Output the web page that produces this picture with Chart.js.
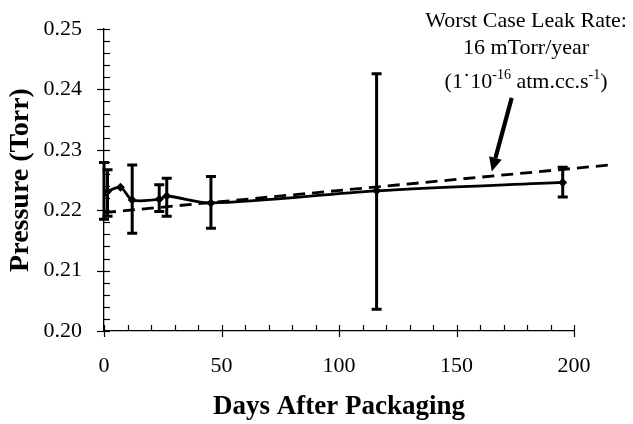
<!DOCTYPE html>
<html><head><meta charset="utf-8">
<script src="https://cdn.jsdelivr.net/npm/chart.js@4.4.1/dist/chart.umd.min.js"></script>
<style>html,body{margin:0;padding:0;background:#fff;}</style>
</head><body>
<canvas id="c" width="633" height="424"></canvas>
<script>
// ---- data ----
const days      = [0, 1.5, 7, 12, 23.5, 26.7, 45.5, 116, 195.2];
const pressure  = [0.2228, 0.2231, 0.2238, 0.2217, 0.2218, 0.22235, 0.2212, 0.2232, 0.2246];
const errHigh   = [0.2279, 0.2267, 0.2238, 0.2275, 0.2242, 0.2253, 0.2256, 0.2426, 0.2271];
const errLow    = [0.2185, 0.2190, 0.2238, 0.2162, 0.2198, 0.2190, 0.2170, 0.2036, 0.2222];
const leakDays     = [0, 215.6];
const leakPressure = [0.2196, 0.2275];
const xMajorTicks = [0, 50, 100, 150, 200];
const xMinorStep = 10;
const yMajorTicks = [0.20, 0.21, 0.22, 0.23, 0.24, 0.25];
const yMinorStep = 0.002;
const noteLines = ['Worst Case Leak Rate:', '16 mTorr/year'];
const noteAnchor = {x: 179.6, y: 0.25};        // data-space centre of the note
const arrowTail = {x: 173.5, y: 0.2386};
const arrowTip  = {x: 165.0, y: 0.2264};

const serif = '"Liberation Serif", "Times New Roman", serif';

const measurePts = days.map((d, i) => ({x: d, y: pressure[i]}));
const leakPts = leakDays.map((d, i) => ({x: d, y: leakPressure[i]}));

const extras = {
  id: 'extras',
  beforeDatasetsDraw(chart) {
    const {ctx, scales: {x, y}} = chart;
    ctx.save();
    ctx.strokeStyle = '#000';
    ctx.lineWidth = 3;
    ctx.lineCap = 'butt';
    days.forEach((d, i) => {
      if (errHigh[i] === errLow[i]) return;
      const px = x.getPixelForValue(d);
      const yh = y.getPixelForValue(errHigh[i]);
      const yl = y.getPixelForValue(errLow[i]);
      ctx.beginPath();
      ctx.moveTo(px, yh); ctx.lineTo(px, yl);
      ctx.moveTo(px - 5, yh); ctx.lineTo(px + 5, yh);
      ctx.moveTo(px - 5, yl); ctx.lineTo(px + 5, yl);
      ctx.stroke();
    });
    ctx.restore();
  },
  afterDraw(chart) {
    const {ctx, scales: {x, y}} = chart;
    ctx.save();
    ctx.strokeStyle = '#000';
    ctx.lineWidth = 1.2;
    const ax = x.getPixelForValue(0);
    const ay = y.getPixelForValue(0.20);
    // y ticks
    for (let v = 0.20; v <= 0.25 + 1e-9; v += yMinorStep) {
      const py = Math.round(y.getPixelForValue(v)) + 0.5;
      const major = yMajorTicks.some(t => Math.abs(t - v) < 1e-6);
      ctx.beginPath();
      ctx.moveTo(major ? ax - 7 : ax, py);
      ctx.lineTo(ax + 6, py);
      ctx.stroke();
    }
    // x ticks
    for (let v = 0; v <= 200 + 1e-9; v += xMinorStep) {
      const px = Math.round(x.getPixelForValue(v)) + 0.5;
      const major = xMajorTicks.includes(Math.round(v));
      ctx.beginPath();
      ctx.moveTo(px, ay - 6);
      ctx.lineTo(px, major ? ay + 6 : ay);
      ctx.stroke();
    }
    // note text
    ctx.fillStyle = '#000';
    ctx.textAlign = 'center';
    ctx.textBaseline = 'alphabetic';
    const cx = x.getPixelForValue(noteAnchor.x);
    const top = y.getPixelForValue(noteAnchor.y);
    ctx.font = '22px ' + serif;
    ctx.fillText(noteLines[0], cx, top - 2);
    ctx.fillText(noteLines[1], cx, top + 25);
    // third line with superscripts
    const parts = [
      {t: '(1\u02D910', sup: false},
      {t: '-16', sup: true},
      {t: ' atm.cc.s', sup: false},
      {t: '-1', sup: true},
      {t: ')', sup: false}
    ];
    const fN = '22px ' + serif, fS = '14px ' + serif;
    let total = 0;
    parts.forEach(p => { ctx.font = p.sup ? fS : fN; p.w = ctx.measureText(p.t).width; total += p.w; });
    let sx = cx - total / 2;
    ctx.textAlign = 'left';
    const base = top + 59;
    parts.forEach(p => {
      ctx.font = p.sup ? fS : fN;
      ctx.fillText(p.t, sx, p.sup ? base - 9 : base);
      sx += p.w;
    });
    // arrow
    const tx = x.getPixelForValue(arrowTail.x), ty = y.getPixelForValue(arrowTail.y);
    const hx = x.getPixelForValue(arrowTip.x), hy = y.getPixelForValue(arrowTip.y);
    const ang = Math.atan2(hy - ty, hx - tx);
    const headLen = 14, headW = 6.5;
    const bx = hx - headLen * Math.cos(ang), by = hy - headLen * Math.sin(ang);
    ctx.lineWidth = 4.2;
    ctx.beginPath(); ctx.moveTo(tx, ty); ctx.lineTo(bx, by); ctx.stroke();
    ctx.beginPath();
    ctx.moveTo(hx, hy);
    ctx.lineTo(bx + headW * Math.sin(ang), by - headW * Math.cos(ang));
    ctx.lineTo(bx - headW * Math.sin(ang), by + headW * Math.cos(ang));
    ctx.closePath(); ctx.fill();
    ctx.restore();
  }
};

new Chart(document.getElementById('c'), {
  type: 'scatter',
  data: {
    datasets: [
      {
        label: 'Measured',
        data: measurePts,
        showLine: true,
        borderColor: '#000',
        backgroundColor: '#000',
        borderWidth: 2.8,
        tension: 0.3,
        pointStyle: 'rectRot',
        pointRadius: 4.5,
        pointBorderWidth: 0,
        order: 1
      },
      {
        label: 'Worst case leak',
        data: leakPts,
        showLine: true,
        borderColor: '#000',
        borderWidth: 2.8,
        borderDash: [12, 7],
        pointRadius: 0,
        clip: false,
        order: 2
      }
    ]
  },
  options: {
    responsive: false,
    animation: false,
    devicePixelRatio: 1,
    layout: {padding: {top: 29, right: 59, left: 0, bottom: 0}},
    plugins: {legend: {display: false}, tooltip: {enabled: false}},
    scales: {
      x: {
        type: 'linear', min: 0, max: 200,
        afterBuildTicks: s => { s.ticks = xMajorTicks.map(v => ({value: v})); },
        afterFit: s => { s.height = 93; },
        ticks: {font: {family: serif, size: 22}, color: '#000', padding: 14, maxRotation: 0},
        grid: {display: false},
        border: {display: true, color: '#000', width: 1.3},
        title: {display: true, text: 'Days After Packaging', color: '#000',
                font: {family: serif, size: 27, weight: 'bold'}, padding: {top: 0, bottom: 1}}
      },
      y: {
        type: 'linear', min: 0.20, max: 0.25,
        afterBuildTicks: s => { s.ticks = yMajorTicks.map(v => ({value: v})); },
        afterFit: s => { s.width = 104; },
        ticks: {font: {family: serif, size: 22}, color: '#000', padding: 14,
                callback: v => Number(v).toFixed(2)},
        grid: {display: false},
        border: {display: true, color: '#000', width: 1.3},
        title: {display: true, text: 'Pressure (Torr)', color: '#000',
                font: {family: serif, size: 28, weight: 'bold'}, padding: {top: 4, bottom: 0}}
      }
    }
  },
  plugins: [extras]
});
</script>
</body></html>
